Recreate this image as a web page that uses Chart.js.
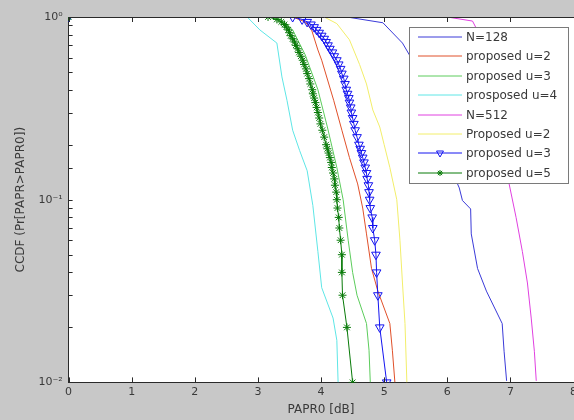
<!DOCTYPE html>
<html>
<head>
<meta charset="utf-8">
<script src="https://cdn.jsdelivr.net/npm/chart.js@4.4.1/dist/chart.umd.min.js"></script>
<style>
  html, body { margin: 0; padding: 0; background: #c8c8c8; overflow: hidden; }
  #wrap { width: 574px; height: 420px; overflow: hidden; }
</style>
</head>
<body>
<div id="wrap"><canvas id="ccdf" width="580" height="420"></canvas></div>
<script>
// legend entries, same order as the reference legend
const seriesLabels = ['N=128', 'proposed u=2', 'proposed u=3', 'prosposed u=4',
                      'N=512', 'Proposed u=2', 'proposed u=3', 'proposed u=5'];
const seriesColors = ['#3a3ad8', '#e0502a', '#5ccc5c', '#5ee6e6',
                      '#e040e0', '#f2ee6a', '#1414f0', '#087a08'];

const xTicks = [0, 1, 2, 3, 4, 5, 6, 7, 8];
const yTickLabels = { 1: '10\u2070', 0.1: '10\u207B\u00B9', 0.01: '10\u207B\u00B2' };

// plain curves (x = PAPR0 dB, y = CCDF)
const n128X = [0, 4.41, 4.98, 5.29, 5.40, 5.60, 5.85, 6.05, 6.19, 6.24, 6.37, 6.38, 6.48, 6.62, 6.87, 6.90, 6.94];
const n128Y = [1, 1, 0.93, 0.72, 0.62, 0.45, 0.25, 0.15, 0.116, 0.099, 0.089, 0.065, 0.042, 0.0316, 0.021, 0.0148, 0.0102];

const u2aX = [0, 3.55, 3.75, 3.85, 3.95, 4.01, 4.20, 4.33, 4.45, 4.58, 4.66, 4.72, 4.80, 4.90, 5.09, 5.13, 5.17];
const u2aY = [1, 1, 0.94, 0.85, 0.66, 0.58, 0.35, 0.24, 0.17, 0.122, 0.09, 0.065, 0.042, 0.0316, 0.021, 0.015, 0.01];

const u3aX = [0, 3.30, 3.55, 3.75, 3.95, 4.10, 4.25, 4.35, 4.43, 4.50, 4.57, 4.72, 4.76, 4.78];
const u3aY = [1, 1, 0.85, 0.62, 0.40, 0.25, 0.15, 0.10, 0.06, 0.04, 0.03, 0.021, 0.015, 0.01];

const u4aX = [0, 2.83, 3.03, 3.30, 3.38, 3.46, 3.55, 3.66, 3.78, 3.87, 3.95, 4.01, 4.19, 4.25, 4.27];
const u4aY = [1, 1, 0.85, 0.72, 0.47, 0.35, 0.24, 0.186, 0.144, 0.093, 0.052, 0.033, 0.0225, 0.017, 0.01];

const n512X = [0, 6.00, 6.40, 6.70, 6.85, 6.98, 7.09, 7.19, 7.27, 7.33, 7.38, 7.41];
const n512Y = [1, 1, 0.95, 0.60, 0.30, 0.122, 0.080, 0.052, 0.035, 0.0225, 0.0148, 0.0102];

const u2bX = [0, 4.05, 4.25, 4.45, 4.61, 4.72, 4.82, 4.93, 5.00, 5.09, 5.20, 5.25, 5.29, 5.33, 5.36];
const u2bY = [1, 1, 0.92, 0.75, 0.55, 0.43, 0.31, 0.25, 0.20, 0.15, 0.10, 0.06, 0.035, 0.021, 0.01];

// marker curves share the same CCDF levels
const ccdfLevels = [1, 1, 0.97, 0.94, 0.91, 0.88, 0.85, 0.82, 0.79, 0.76, 0.73, 0.70, 0.67, 0.64, 0.61,
  0.58, 0.55, 0.52, 0.49, 0.46, 0.43, 0.40, 0.38, 0.36, 0.34, 0.32, 0.30, 0.28, 0.26, 0.24, 0.22,
  0.20, 0.19, 0.18, 0.17, 0.16, 0.15, 0.14, 0.13, 0.12, 0.11, 0.10, 0.09, 0.08, 0.07, 0.06, 0.05,
  0.04, 0.03, 0.02, 0.01];
const u3bX = [0, 3.55, 3.70, 3.78, 3.84, 3.89, 3.93, 3.97, 4.01, 4.05, 4.08, 4.11, 4.14, 4.18, 4.21,
  4.25, 4.28, 4.31, 4.33, 4.36, 4.38, 4.40, 4.42, 4.44, 4.45, 4.47, 4.48, 4.50, 4.52, 4.54, 4.57,
  4.60, 4.62, 4.64, 4.66, 4.68, 4.70, 4.72, 4.73, 4.75, 4.76, 4.77, 4.78, 4.81, 4.82, 4.85, 4.87,
  4.88, 4.90, 4.93, 5.04];
const u5bX = [0, 3.16, 3.30, 3.37, 3.42, 3.45, 3.48, 3.50, 3.52, 3.55, 3.58, 3.60, 3.63, 3.65, 3.68,
  3.71, 3.73, 3.76, 3.78, 3.81, 3.83, 3.86, 3.87, 3.89, 3.91, 3.93, 3.95, 3.97, 3.99, 4.02, 4.05,
  4.08, 4.10, 4.12, 4.14, 4.16, 4.17, 4.19, 4.21, 4.22, 4.24, 4.25, 4.26, 4.28, 4.29, 4.31, 4.33,
  4.33, 4.34, 4.41, 4.50];

const pts = (xs, ys) => xs.map((x, i) => ({ x, y: ys[i] }));

const curves = [
  pts(n128X, n128Y), pts(u2aX, u2aY), pts(u3aX, u3aY), pts(u4aX, u4aY),
  pts(n512X, n512Y), pts(u2bX, u2bY), pts(u3bX, ccdfLevels), pts(u5bX, ccdfLevels),
];
const markers = [null, null, null, null, null, null,
  { style: 'triangle', rotation: 180, radius: 5 }, { style: 'star', rotation: 0, radius: 4 }];

const FONT = { family: '"DejaVu Sans", sans-serif', size: 12 };
const TICKFONT = { family: '"DejaVu Sans", sans-serif', size: 11 };
const TXT = '#3a3a3a';

// white axes background
const plotBg = {
  id: 'plotBg',
  beforeDraw(chart) {
    const { ctx, chartArea: a } = chart;
    ctx.save();
    ctx.fillStyle = '#fff';
    ctx.fillRect(a.left, a.top, a.right - a.left + 10, a.bottom - a.top);
    ctx.restore();
  },
};

// MATLAB-like inward ticks + top frame line
const frameTicks = {
  id: 'frameTicks',
  afterDatasetsDraw(chart) {
    const { ctx, chartArea: a, scales: { x, y } } = chart;
    ctx.save();
    ctx.strokeStyle = '#2a2a2a';
    ctx.lineWidth = 1;
    ctx.beginPath();
    ctx.moveTo(a.left, a.top + 0.5); ctx.lineTo(a.right + 10, a.top + 0.5);
    xTicks.forEach(v => {
      const px = Math.round(x.getPixelForValue(v)) + 0.5;
      ctx.moveTo(px, a.bottom); ctx.lineTo(px, a.bottom - 5);
      ctx.moveTo(px, a.top); ctx.lineTo(px, a.top + 5);
    });
    y.ticks.forEach(t => {
      const py = Math.round(y.getPixelForValue(t.value)) + 0.5;
      ctx.moveTo(a.left, py); ctx.lineTo(a.left + 4, py);
    });
    ctx.stroke();
    ctx.restore();
  },
};

// legend box inside the plot, top right
const boxLegend = {
  id: 'boxLegend',
  afterDraw(chart) {
    const { ctx } = chart;
    const left = 409, top = 27, w = 159, h = 156, row = 19.4;
    ctx.save();
    ctx.fillStyle = '#fff';
    ctx.fillRect(left, top, w, h);
    ctx.strokeStyle = '#7a7a7a';
    ctx.lineWidth = 1;
    ctx.strokeRect(left + 0.5, top + 0.5, w, h);
    ctx.font = `${FONT.size}px ${FONT.family}`;
    ctx.textBaseline = 'middle';
    chart.data.datasets.forEach((ds, i) => {
      const cy = Math.round(top + 10 + i * row);
      ctx.strokeStyle = ds.borderColor;
      ctx.lineWidth = 1;
      ctx.beginPath();
      ctx.moveTo(418, cy); ctx.lineTo(462, cy);
      ctx.stroke();
      const m = markers[i];
      if (m) {
        ctx.fillStyle = 'rgba(0,0,0,0)';
        Chart.helpers.drawPoint(ctx, { pointStyle: m.style, rotation: m.rotation, radius: m.radius - 1, borderWidth: 1 }, 440, cy);
      }
      ctx.fillStyle = TXT;
      ctx.fillText(ds.label, 466, cy + 1);
    });
    ctx.restore();
  },
};

new Chart(document.getElementById('ccdf'), {
  type: 'line',
  data: {
    datasets: curves.map((data, i) => ({
      label: seriesLabels[i],
      data,
      borderColor: seriesColors[i],
      backgroundColor: 'rgba(0,0,0,0)',
      borderWidth: 1,
      tension: 0,
      order: 8 - i,
      pointRadius: markers[i] ? markers[i].radius : 0,
      pointStyle: markers[i] ? markers[i].style : 'circle',
      rotation: markers[i] ? markers[i].rotation : 0,
      pointBorderColor: seriesColors[i],
      pointBackgroundColor: 'rgba(0,0,0,0)',
      pointBorderWidth: 1,
    })),
  },
  options: {
    responsive: false,
    animation: false,
    layout: { padding: { left: 14, top: 17, right: 3, bottom: 3 } },
    plugins: { legend: { display: false }, tooltip: { enabled: false } },
    scales: {
      x: {
        type: 'linear', min: 0, max: 8,
        afterBuildTicks: s => { s.ticks = xTicks.map(v => ({ value: v })); },
        ticks: { color: TXT, font: TICKFONT, padding: 3, maxRotation: 0 },
        grid: { display: false, drawTicks: false },
        border: { display: true, color: '#2a2a2a' },
        title: { display: true, text: 'PAPR0 [dB]', color: TXT, font: FONT, padding: { top: 1, bottom: 0 } },
      },
      y: {
        type: 'logarithmic', min: 0.01, max: 1,
        ticks: {
          color: TXT, font: TICKFONT, padding: 6, autoSkip: false,
          callback: v => yTickLabels[v] || '',
        },
        grid: { display: false, drawTicks: false },
        border: { display: true, color: '#2a2a2a' },
        title: { display: true, text: 'CCDF (Pr[PAPR>PAPR0])', color: TXT, font: FONT, padding: { top: 0, bottom: 4 } },
      },
    },
  },
  plugins: [plotBg, frameTicks, boxLegend],
});
</script>
</body>
</html>
